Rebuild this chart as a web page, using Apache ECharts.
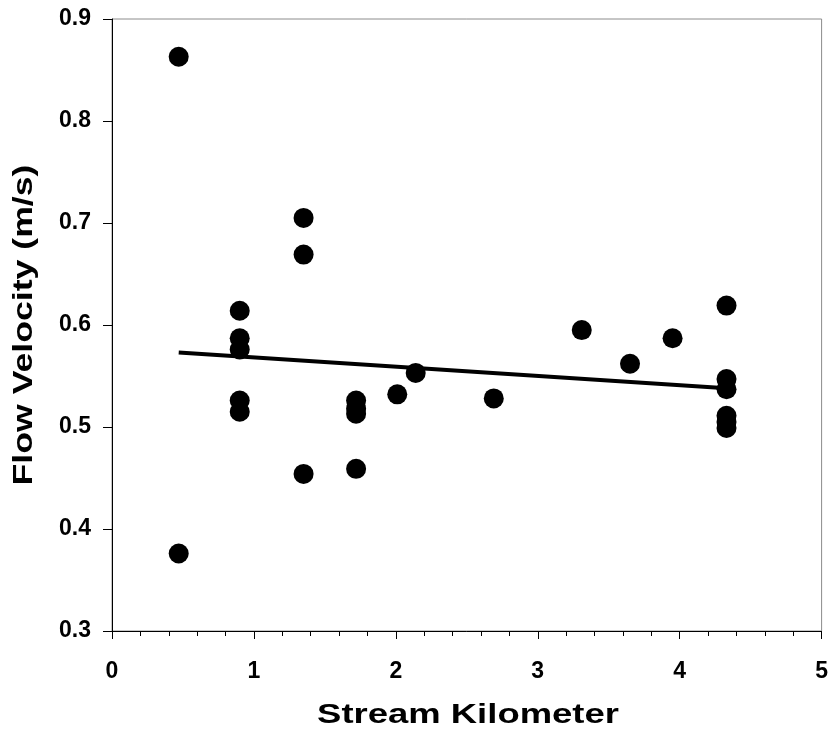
<!DOCTYPE html>
<html>
<head>
<meta charset="utf-8">
<script src="https://cdn.jsdelivr.net/npm/echarts@6/dist/echarts.min.js"></script>
<style>
  html, body { margin: 0; padding: 0; background: #fff; }
  #chart { width: 831px; height: 730px; }
</style>
</head>
<body>
<div id="chart"></div>
<script>
// Stream kilometer of each velocity measurement
const streamKm = [
  0.47, 0.47,
  0.90, 0.90, 0.90, 0.90, 0.90,
  1.35, 1.35, 1.35,
  1.72, 1.72, 1.72, 1.72,
  2.01, 2.14, 2.69, 3.31, 3.65, 3.95,
  4.33, 4.33, 4.33, 4.33, 4.33, 4.33
];
// Measured flow velocity (m/s)
const velocity = [
  0.863, 0.376,
  0.614, 0.587, 0.576, 0.526, 0.515,
  0.705, 0.669, 0.454,
  0.526, 0.518, 0.513, 0.459,
  0.532, 0.553, 0.528, 0.595, 0.562, 0.587,
  0.619, 0.547, 0.537, 0.511, 0.505, 0.499
];
// Fitted linear trend, end points
const trendKm = [0.47, 4.33];
const trendVel = [0.573, 0.538];

const xTicks = [0, 1, 2, 3, 4, 5];
const yTicks = [0.3, 0.4, 0.5, 0.6, 0.7, 0.8, 0.9];

const xTitle = 'Stream Kilometer';
const yTitle = 'Flow Velocity (m/s)';

const font = '"Liberation Sans", Arial, Helvetica, sans-serif';

const chart = echarts.init(document.getElementById('chart'), null, { renderer: 'canvas' });
chart.setOption({
  animation: false,
  backgroundColor: '#ffffff',
  grid: {
    left: 112, right: 6, top: 19, bottom: 99,
    show: true, borderColor: '#8c8c8c', borderWidth: 1, backgroundColor: 'transparent'
  },
  // Axis titles, drawn wide like the tick labels
  graphic: [
    {
      type: 'text', x: 468, y: 716, scaleX: 1.35,
      style: { text: xTitle, font: 'bold 27px ' + font, fill: '#000', align: 'center', verticalAlign: 'middle' }
    },
    {
      type: 'text', x: 25, y: 325, rotation: Math.PI / 2, scaleX: 1.32,
      style: { text: yTitle, font: 'bold 27px ' + font, fill: '#000', align: 'center', verticalAlign: 'middle' }
    }
  ],
  xAxis: {
    type: 'value',
    min: xTicks[0], max: xTicks[xTicks.length - 1], interval: 1,
    axisLine: { show: true, onZero: false, lineStyle: { color: '#000', width: 1 } },
    axisTick: { show: true, inside: false, length: 8, lineStyle: { color: '#000', width: 1 } },
    minorTick: { show: true, splitNumber: 5, length: 5, lineStyle: { color: '#000', width: 1 } },
    splitLine: { show: false },
    axisLabel: {
      margin: 29, fontFamily: font, fontWeight: 'bold', fontSize: 23, color: '#000',
      formatter: v => String(v)
    }
  },
  yAxis: {
    type: 'value',
    min: yTicks[0], max: yTicks[yTicks.length - 1], interval: 0.1,
    axisLine: { show: true, onZero: false, lineStyle: { color: '#000', width: 1 } },
    axisTick: { show: true, inside: false, length: 9, lineStyle: { color: '#000', width: 1 } },
    splitLine: { show: false },
    axisLabel: {
      margin: 21, fontFamily: font, fontWeight: 'bold', fontSize: 23, color: '#000',
      formatter: v => v.toFixed(1)
    }
  },
  series: [
    {
      type: 'line',
      data: trendKm.map((x, i) => [x, trendVel[i]]),
      showSymbol: false,
      symbol: 'none',
      lineStyle: { color: '#000', width: 4 },
      z: 2
    },
    {
      type: 'scatter',
      data: streamKm.map((x, i) => [x, velocity[i]]),
      symbol: 'circle',
      symbolSize: 20,
      itemStyle: { color: '#000', opacity: 1 },
      z: 3
    }
  ]
});
</script>
</body>
</html>
